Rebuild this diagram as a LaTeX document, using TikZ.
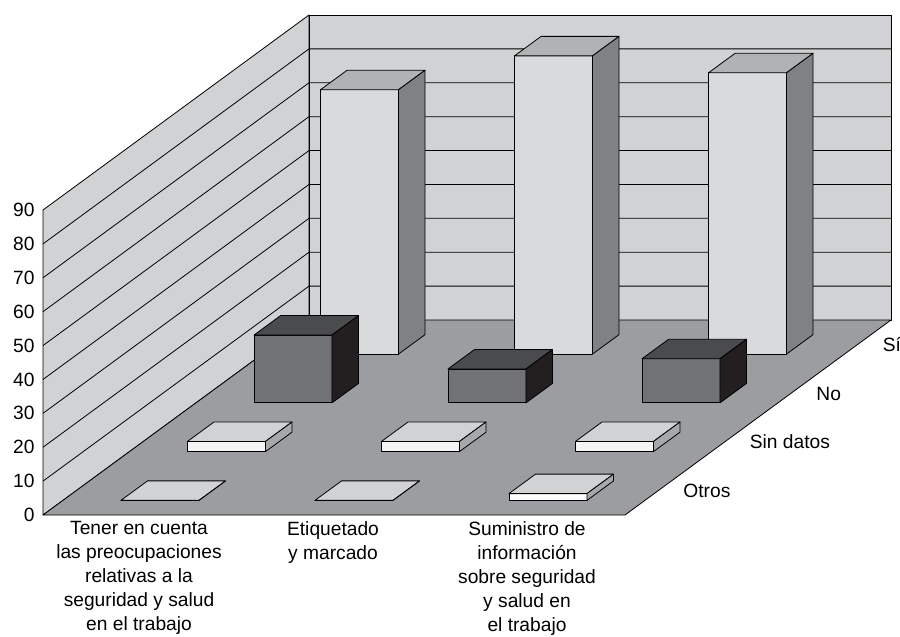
\documentclass[tikz,border=0pt]{standalone}
\usepackage{fontspec}
\setmainfont{Liberation Sans}
\definecolor{wallc}{HTML}{D1D2D4}
\definecolor{floorc}{HTML}{9C9DA0}
\definecolor{sifront}{HTML}{D9DADC}
\definecolor{sitop}{HTML}{B1B2B4}
\definecolor{siside}{HTML}{808184}
\definecolor{nofront}{HTML}{717275}
\definecolor{notop}{HTML}{4A4B4D}
\definecolor{noside}{HTML}{231F20}
\definecolor{sdfront}{HTML}{F4F4F4}
\definecolor{sdtop}{HTML}{D1D2D4}
\definecolor{sdside}{HTML}{A7A8AA}
\definecolor{otfront}{HTML}{FFFFFF}
\newcommand{\chartbar}[6]{%
  \pgfmathsetmacro\bx{43+194*#1+58+66.5*(#2+0.3)}%
  \pgfmathsetmacro\by{515-48.75*(#2+0.3)}%
  \pgfmathsetmacro\bh{#3*3.389}%
  \filldraw[fill=#4] (\bx,\by) rectangle ++(78,-\bh);
  \filldraw[fill=#5] (\bx,\by-\bh) -- ++(78,0) -- ++(26.6,-19.5) -- ++(-78,0) -- cycle;
  \filldraw[fill=#6] (\bx+78,\by) -- ++(26.6,-19.5) -- ++(0,-\bh) -- ++(-26.6,19.5) -- cycle;
}
\tikzset{
  ylab/.style={anchor=east, inner sep=0pt},
  rowlab/.style={anchor=base west, inner sep=0pt},
  catlab/.style={anchor=north, align=center, inner sep=0pt},
}
\begin{document}
\begin{tikzpicture}[x=1pt,y=-1pt,line width=0.8pt,line join=round,
  font=\fontsize{19.2}{24}\selectfont]
\useasboundingbox (0,0) rectangle (900,637);
% walls
\filldraw[fill=wallc] (43,515) -- (43,210) -- (309,15) -- (309,320) -- cycle;
\filldraw[fill=wallc] (309,320) -- (309,15) -- (891,15) -- (891,320) -- cycle;
\foreach \k in {1,...,8} {
  \draw (43,515-33.89*\k) -- (309,320-33.89*\k) -- (891,320-33.89*\k);
}
% floor
\filldraw[fill=floorc] (43,515) -- (625,515) -- (891,320) -- (309,320) -- cycle;
% bars: Si
\chartbar{0}{3}{78}{sifront}{sitop}{siside}
\chartbar{1}{3}{88}{sifront}{sitop}{siside}
\chartbar{2}{3}{83}{sifront}{sitop}{siside}
% No
\chartbar{0}{2}{20}{nofront}{notop}{noside}
\chartbar{1}{2}{10}{nofront}{notop}{noside}
\chartbar{2}{2}{13}{nofront}{notop}{noside}
% Sin datos
\chartbar{0}{1}{3}{sdfront}{sdtop}{sdside}
\chartbar{1}{1}{3}{sdfront}{sdtop}{sdside}
\chartbar{2}{1}{3}{sdfront}{sdtop}{sdside}
% Otros
\chartbar{0}{0}{0}{otfront}{sdtop}{sdside}
\chartbar{1}{0}{0}{otfront}{sdtop}{sdside}
\chartbar{2}{0}{2}{otfront}{sdtop}{sdside}
% y labels
\foreach \k in {0,...,9} {
  \node[ylab] (y\k) at (35,515-33.89*\k) {\pgfmathparse{int(10*\k)}\pgfmathresult};
}
% row labels
\node[rowlab] (lot) at (683,497.6) {Otros};
\node[rowlab] (lsd) at (749.5,448.9) {Sin datos};
\node[rowlab] (lno) at (816,400.1) {No};
\node[rowlab] (lsi) at (882.5,351.4) {Sí};
% category labels
\node[catlab] (c1) at (139,521) {Tener en cuenta\\las preocupaciones\\relativas a la\\seguridad y salud\\en el trabajo};
\node[catlab] (c2) at (333,521) {Etiquetado\\y marcado};
\node[catlab] (c3) at (527,521) {Suministro de\\información\\sobre seguridad\\y salud en\\el trabajo};
\end{tikzpicture}
\end{document}
